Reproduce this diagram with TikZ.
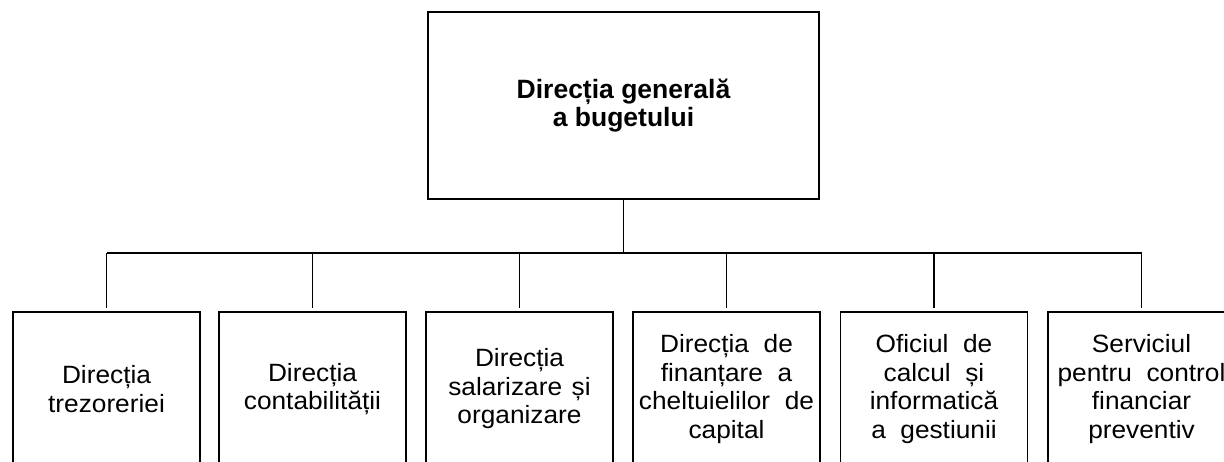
\documentclass[tikz,border=0pt]{standalone}
\usepackage{fontspec}
\setmainfont{Liberation Sans}
\newfontfamily\wideface[FakeStretch=1.05,WordSpace=2]{Liberation Sans}
\begin{document}
\begin{tikzpicture}[x=1pt,y=1pt,
  box/.style={draw,line width=1.5pt,minimum width=187pt,minimum height=154pt,inner sep=0pt,align=center,font=\wideface\fontsize{25}{28.5}\selectfont},
  topbox/.style={draw,line width=1.5pt,minimum width=391pt,minimum height=187pt,inner sep=0pt,align=center,font=\bfseries\fontsize{26.5}{28.5}\selectfont},
  conn/.style={line width=1.5pt}]
\useasboundingbox (0,0) rectangle (1224,462);
\clip (0,0) rectangle (1224,462);
\node[topbox] (top) at (623.5,356.5) {Direcția generală\\a bugetului};
\node[box] (b1) at (106.5,73) {Direcția\\trezoreriei};
\node[box] (b2) at (312.5,73) {Direcția\\contabilității};
\node[box] (b3) at (519.5,73) {Direcția\\salarizare\hspace{-5pt} și\\organizare};
\node[box] (b4) at (726.5,73) {Direcția de\\finanțare a\\cheltuielilor de\\capital};
\node[box] (b5) at (934,73) {Oficiul de\\calcul și\\informatică\\a gestiunii};
\node[box] (b6) at (1141.5,73) {Serviciul\\pentru control\\financiar\\preventiv};
\coordinate (bus) at ([yshift=-53.5pt]top.south);
\draw[conn] (top.south) -- (bus);
\draw[conn] (b1.north |- bus) -- (b6.north |- bus);
\foreach \b in {b1,b2,b3,b4,b5,b6}{
  \draw[conn] ([yshift=3pt]\b.north) -- (\b.north |- bus);
}
\end{tikzpicture}
\end{document}
